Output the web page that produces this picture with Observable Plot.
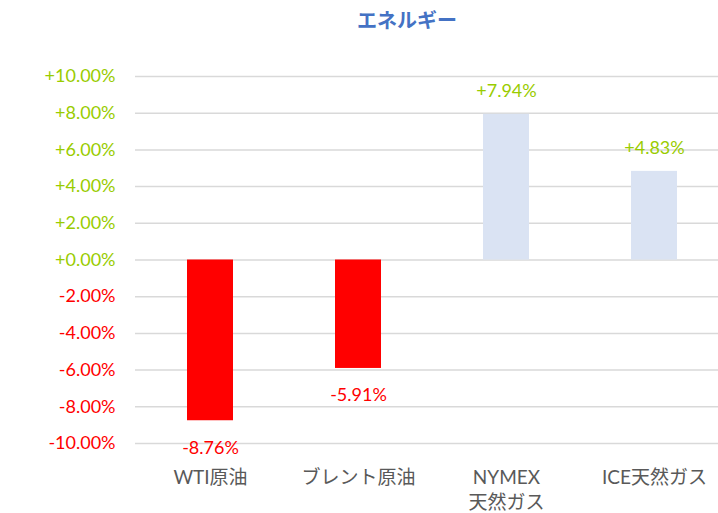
<!DOCTYPE html>
<html>
<head>
<meta charset="utf-8">
<script src="https://cdn.jsdelivr.net/npm/d3@7"></script>
<script src="https://cdn.jsdelivr.net/npm/@observablehq/plot@0.6"></script>
<style>
  html, body { margin: 0; padding: 0; background: #fff; }
  #wrap { position: relative; width: 718px; height: 513px; }
  #title { position: absolute; left: 0; width: 814px; top: 5px; text-align: center;
           font: bold 20px "Noto Sans CJK JP", sans-serif; color: #4472C4; }
  #chart { position: absolute; left: 0; top: 0; }
</style>
</head>
<body>
<div id="wrap">
  <div id="chart"></div>
  <div id="title">エネルギー</div>
</div>
<script>
const categories = ["WTI原油", "ブレント原油", "NYMEX\n天然ガス", "ICE天然ガス"];
const values = [-8.76, -5.91, 7.94, 4.83];
const yTicks = [-10, -8, -6, -4, -2, 0, 2, 4, 6, 8, 10];

const GREEN = "#99CC00", RED = "#FF0000", BLUE = "#DAE3F3";
const data = categories.map((c, i) => ({cat: c, v: values[i]}));
const fmt = v => (v >= 0 ? "+" : "-") + Math.abs(v).toFixed(2) + "%";
const FONT = "Lato, 'Noto Sans CJK JP', sans-serif";

const chart = Plot.plot({
  width: 718,
  height: 513,
  marginLeft: 135,
  marginRight: 0,
  marginTop: 76,
  marginBottom: 70,
  style: {fontFamily: FONT, fontSize: "18px", background: "white"},
  x: {domain: categories, range: [135, 729], paddingInner: 0.69, paddingOuter: 0.345},
  y: {domain: [-10, 10]},
  marks: [
    Plot.ruleY(yTicks, {stroke: "#D9D9D9", strokeWidth: 1.5}),
    Plot.barY(data, {x: "cat", y: "v", fill: d => d.v < 0 ? RED : BLUE}),
    Plot.text(data.filter(d => d.v >= 0), {
      x: "cat", y: "v", text: d => fmt(d.v), fill: GREEN, fontSize: 18, dy: -23
    }),
    Plot.text(data.filter(d => d.v < 0), {
      x: "cat", y: "v", text: d => fmt(d.v), fill: RED, fontSize: 18, dy: 27
    }),
    Plot.axisY({
      ticks: yTicks, tickSize: 0, tickPadding: 20, label: null,
      tickFormat: fmt, fontSize: 18,
      fill: d => d < 0 ? RED : GREEN
    }),
    Plot.axisX({
      tickSize: 0, tickPadding: 23, label: null, fontSize: 19,
      fill: "#595959", lineHeight: 1.32
    })
  ]
});
document.getElementById("chart").appendChild(chart);
</script>
</body>
</html>
